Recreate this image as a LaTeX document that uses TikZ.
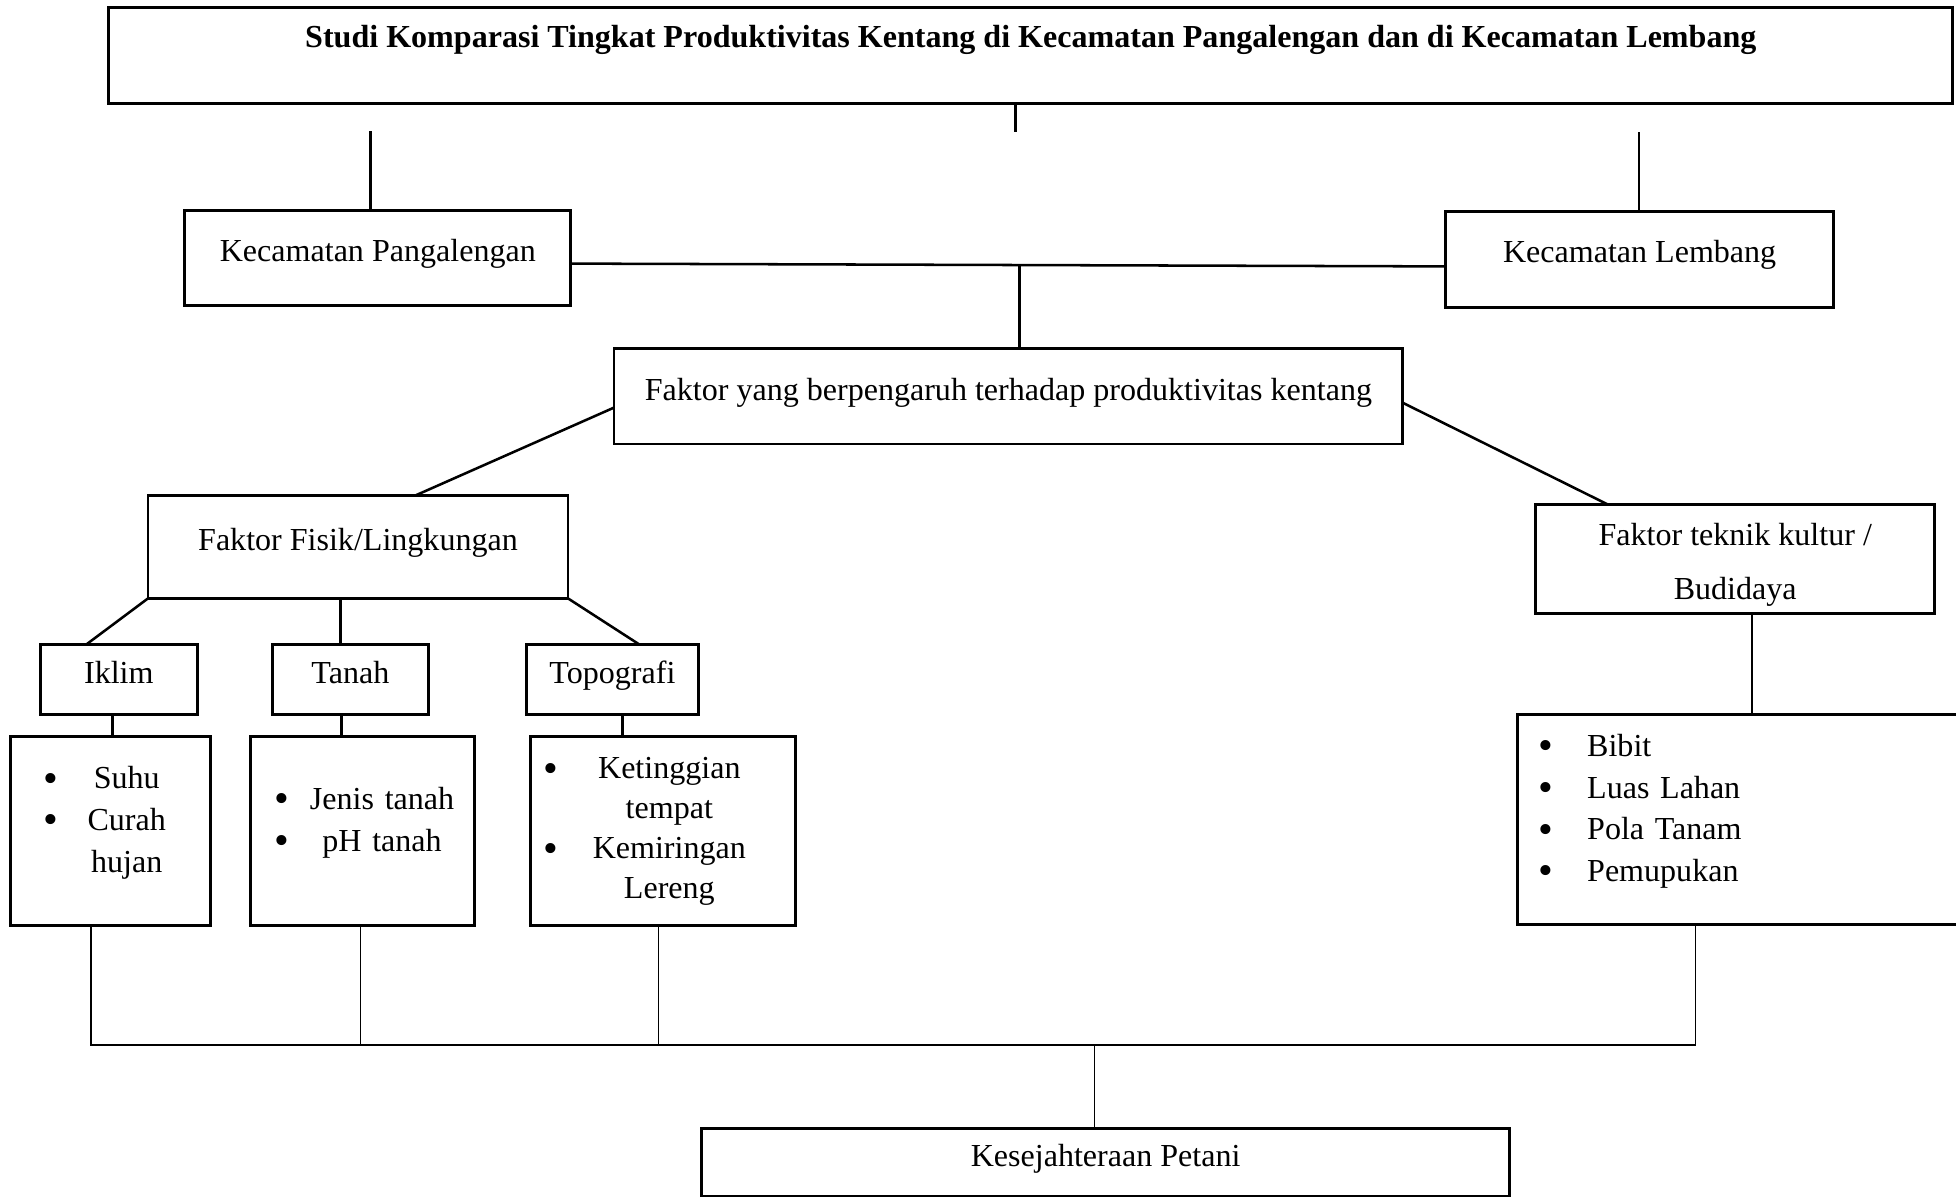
\documentclass[tikz,border=0pt]{standalone}
\usepackage{fontspec}
\setmainfont{Liberation Serif}
\usepackage{graphicx}
\usepackage{tikz}
\usetikzlibrary{positioning}
\newcommand{\blt}{\raisebox{-1.2pt}{\fontsize{15}{15}\selectfont\textbullet}}
\tikzset{
  box/.style={rectangle, draw=black, line width=1pt, inner sep=0pt, outer sep=0pt, align=center,
              text height=2.8mm, text depth=1.9mm},
  lstbox/.style={box, anchor=north west, align=left},
  conn/.style={draw=black, line width=0.9pt},
  connthin/.style={draw=black, line width=0.5pt},
}

\begin{document}
\begin{tikzpicture}[font=\fontsize{11.4}{14.8}\selectfont]
  \useasboundingbox (0,0) rectangle (244.5mm,-149.5mm);
  \node[box, anchor=north west, minimum width=230.5mm, text height=5.05mm, text depth=6.95mm,
        font=\fontsize{11.4}{14.8}\selectfont\bfseries] (judul) at (13.6mm,-0.9mm)
        {Studi Komparasi Tingkat Produktivitas Kentang di Kecamatan Pangalengan dan di Kecamatan Lembang};
  \node[box, below right=13.4mm and 9.5mm of judul.south west, minimum width=48.25mm, minimum height=11.9mm] (pgl) {Kecamatan Pangalengan};
  \node[box, below left=13.5mm and 14.9mm of judul.south east, minimum width=48.5mm, minimum height=12mm] (lmb) {Kecamatan Lembang};
  \node[box, below right=5.4mm and 5.4mm of pgl.south east, minimum width=98.6mm, minimum height=11.9mm] (fkt) {Faktor yang berpengaruh terhadap produktivitas kentang};
  \node[box, below left=6.4mm and 5.75mm of fkt.south west, minimum width=52.5mm, minimum height=12.9mm] (fis) {Faktor Fisik/Lingkungan};
  \node[box, below right=7.6mm and 16.6mm of fkt.south east, minimum width=49.9mm, text height=5.1mm, text depth=8.5mm] (bud)
        {\begin{tabular}[t]{@{}c@{}}Faktor teknik kultur /\\[4.4pt] Budidaya\end{tabular}};
  \node[box, below left=5.75mm and 20.1mm of fis.south, minimum width=19.6mm, minimum height=8.8mm] (ikl) {Iklim};
  \node[box, right=9.4mm of ikl, minimum width=19.5mm, minimum height=8.8mm] (tnh) {Tanah};
  \node[box, right=12.25mm of tnh, minimum width=21.5mm, minimum height=8.8mm] (topo) {Topografi};
  \node[lstbox, inner xsep=4.1mm, text width=16.8mm, text height=6.5mm, text depth=17.1mm] (lsuhu)
        at ([shift={(-3.75mm,-2.75mm)}]ikl.south west)
        {\begin{tabular}[t]{@{}c@{\hspace{3.7mm}}c@{}}\blt & Suhu\\ \blt & Curah\\ & hujan\end{tabular}};
  \node[lstbox, right=5mm of lsuhu, inner xsep=3mm, text width=22mm, text height=9.1mm, text depth=14.5mm] (ltnh)
        {\begin{tabular}[t]{@{}c@{\hspace{2.6mm}}c@{}}\blt & Jenis tanah\\ \blt & pH tanah\end{tabular}};
  \node[lstbox, right=7mm of ltnh, inner xsep=1.65mm, text width=29.8mm, text height=5.25mm, text depth=18.35mm] (ltopo)
        {\renewcommand\arraystretch{0.96}%
         \begin{tabular}[t]{@{}c@{\hspace{4.3mm}}c@{}}\blt & Ketinggian\\ & tempat\\ \blt & Kemiringan\\ & Lereng\end{tabular}};
  \node[lstbox, inner xsep=2.65mm, text width=50.2mm, text height=5.25mm, text depth=21mm] (lbud)
        at ([shift={(-2.25mm,-12.6mm)}]bud.south west)
        {\begin{tabular}[t]{@{}c@{\hspace{4.2mm}}l@{}}\blt & Bibit\\ \blt & Luas Lahan\\ \blt & Pola Tanam\\ \blt & Pemupukan\end{tabular}};
  \node[box, below right=25.4mm and 21.4mm of ltopo.south west, minimum width=101mm, minimum height=8.5mm] (sejah) {Kesejahteraan Petani};

  \coordinate (atasL) at ([shift={(-0.9mm,9.9mm)}]pgl.north);
  \coordinate (atasR) at ([shift={(-0.1mm,9.9mm)}]lmb.north);
  \coordinate (atasM) at ([shift={(-1.9mm,-3.6mm)}]judul.south);
  \draw[conn] (atasL) -- (atasL |- pgl.north);
  \draw[conn] (atasR) -- (atasR |- lmb.north);
  \draw[conn] (judul.south -| atasM) -- (atasM);
  \draw[conn] ([yshift=-0.7mm]pgl.east) -- coordinate[pos=0.513] (tengah) ([yshift=-0.9mm]lmb.west);
  \draw[conn] (tengah) -- (tengah |- fkt.north);
  \draw[conn] ([yshift=-1.4mm]fkt.west) -- ([xshift=7.25mm]fis.north);
  \draw[conn] ([yshift=-0.8mm]fkt.east) -- ([xshift=9.1mm]bud.north west);
  \draw[conn] (fis.south west) -- ([xshift=5.75mm]ikl.north west);
  \draw[conn] ([xshift=-1.25mm]tnh.north) -- ([xshift=-1.25mm]tnh.north |- fis.south);
  \draw[conn] (fis.south east) -- ([xshift=-7.4mm]topo.north east);
  \draw[conn] ([xshift=-0.8mm]ikl.south) -- ([xshift=-0.8mm]ikl.south |- lsuhu.north);
  \draw[conn] ([xshift=-1.1mm]tnh.south) -- ([xshift=-1.1mm]tnh.south |- ltnh.north);
  \draw[conn] ([xshift=1.25mm]topo.south) -- ([xshift=1.25mm]topo.south |- ltopo.north);
  \draw[conn] ([xshift=2.1mm]bud.south) -- ([xshift=2.1mm]bud.south |- lbud.north);

  \coordinate (rel) at ([yshift=-14.9mm]lsuhu.south);
  \coordinate (dSuhu) at ([xshift=10.1mm]lsuhu.south west);
  \coordinate (dTnh) at ([xshift=13.75mm]ltnh.south west);
  \coordinate (dTopo) at ([xshift=16mm]ltopo.south west);
  \coordinate (dBud) at ([xshift=22.25mm]lbud.south west);
  \draw[connthin] (dSuhu) -- (dSuhu |- rel) -- (dBud |- rel) -- (dBud);
  \draw[connthin] (dTnh) -- (dTnh |- rel);
  \draw[connthin] (dTopo) -- (dTopo |- rel);
  \draw[connthin] ([xshift=-1.4mm]sejah.north) -- ([xshift=-1.4mm]sejah.north |- rel);
\end{tikzpicture}
\end{document}
